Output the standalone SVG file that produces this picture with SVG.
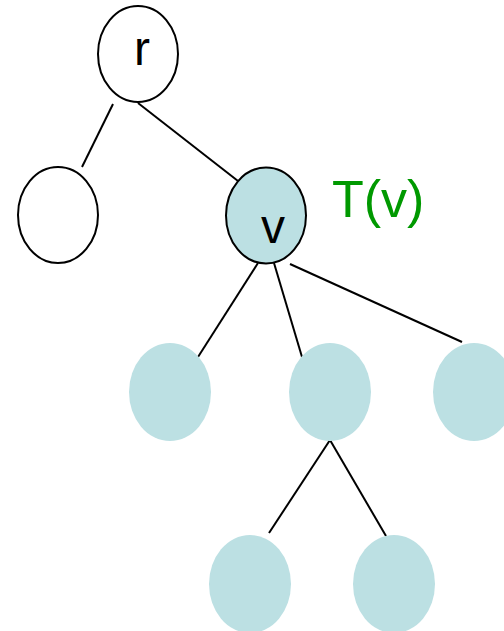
<svg xmlns="http://www.w3.org/2000/svg" width="504" height="631" viewBox="0 0 504 631">
<style>
.edge{stroke:#000;stroke-width:2;fill:none}
.open{fill:#fff;stroke:#000;stroke-width:2}
.sub{fill:#bce0e3;stroke:#000;stroke-width:2}
.leaf{fill:#bce0e3;stroke:none}
.lbl{font-family:"Liberation Sans",Arial,sans-serif;font-size:48px;fill:#000;text-anchor:middle}
.tv{font-family:"Liberation Sans",Arial,sans-serif;font-size:52px;fill:#009900}
</style>
<rect width="504" height="631" fill="#fff"/>
<g id="connectors">
<line class="edge" x1="113" y1="104" x2="82" y2="167"/>
<line class="edge" x1="138" y1="103" x2="238" y2="181"/>
<line class="edge" x1="258" y1="263" x2="198" y2="357"/>
<line class="edge" x1="274" y1="263" x2="302" y2="357"/>
<line class="edge" x1="290" y1="264" x2="462" y2="342"/>
<line class="edge" x1="330" y1="440" x2="269" y2="533"/>
<line class="edge" x1="330" y1="440" x2="386" y2="536"/>
</g>
<g id="node-r">
<ellipse class="open" cx="138" cy="54" rx="40" ry="48"/>
<text class="lbl" x="142" y="65">r</text>
</g>
<g id="node-left">
<ellipse class="open" cx="58" cy="215" rx="40" ry="48"/>
</g>
<g id="node-v">
<ellipse class="sub" cx="266" cy="215.5" rx="40" ry="48"/>
<text class="lbl" x="273" y="243">v</text>
</g>
<g id="label-Tv">
<text class="tv" x="332" y="217">T(v)</text>
</g>
<g id="node-c1"><ellipse class="leaf" cx="170" cy="392" rx="41" ry="49"/></g>
<g id="node-c2"><ellipse class="leaf" cx="330" cy="392" rx="41" ry="49"/></g>
<g id="node-c3"><ellipse class="leaf" cx="474" cy="392" rx="41" ry="49"/></g>
<g id="node-g1"><ellipse class="leaf" cx="250" cy="584" rx="41" ry="49"/></g>
<g id="node-g2"><ellipse class="leaf" cx="394" cy="584" rx="41" ry="49"/></g>
</svg>
